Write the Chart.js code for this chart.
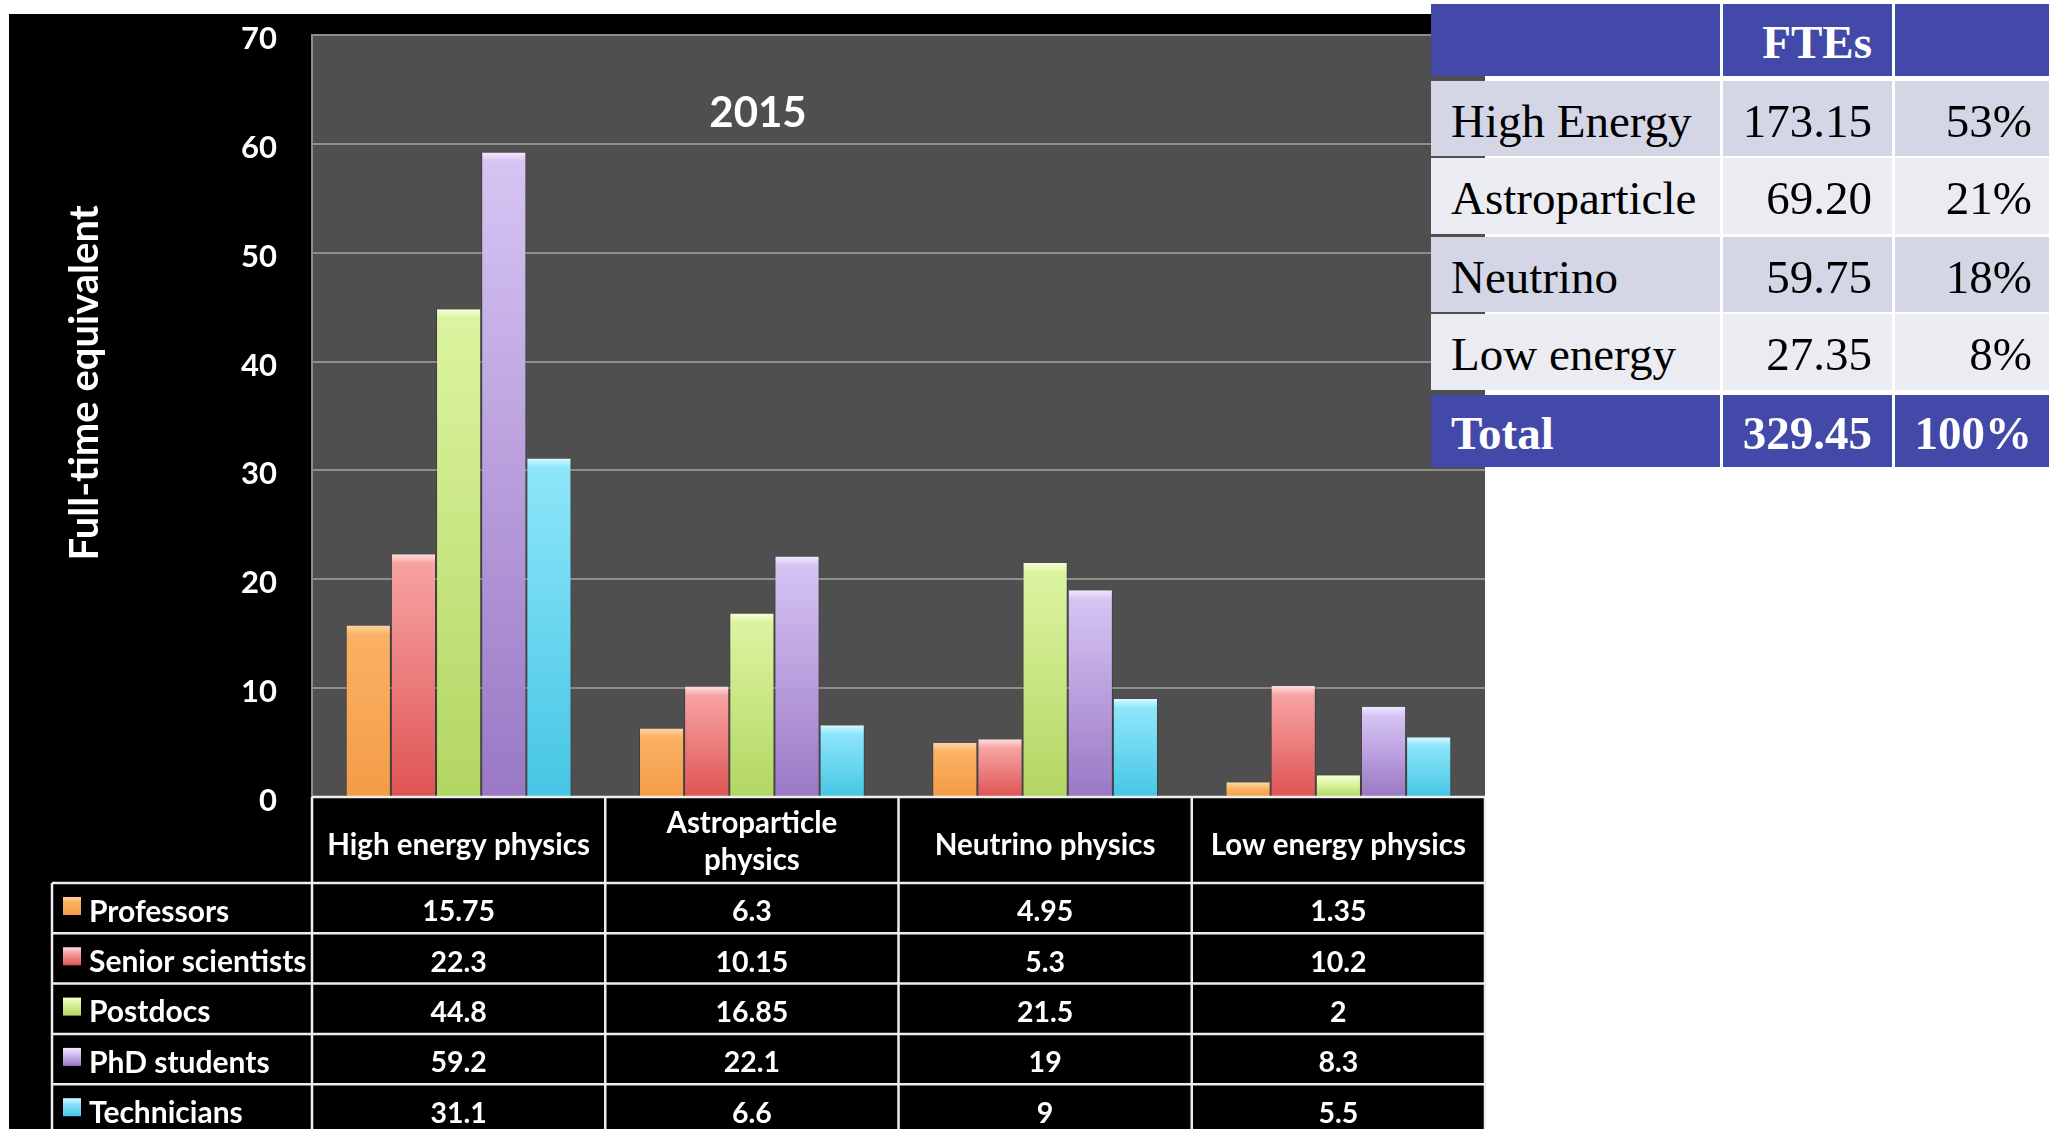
<!DOCTYPE html>
<html>
<head>
<meta charset="utf-8">
<title>Full-time equivalent by field, 2015</title>
<script src="https://cdn.jsdelivr.net/npm/chart.js@4.4.1/dist/chart.umd.min.js"></script>
<style>
  html, body { margin: 0; padding: 0; background: #ffffff; }
  #wrap { position: relative; width: 2053px; height: 1129px; overflow: hidden; }
  #chart { position: absolute; left: 0; top: 0; }
  .cell {
    position: absolute; box-sizing: border-box; display: flex; align-items: center;
    font-family: "Liberation Serif", "Times New Roman", serif; font-size: 47px; color: #000;
    padding: 4px 20px 0 20px; white-space: nowrap;
  }
  .cell.num { justify-content: flex-end; }
  .cell.last { padding-right: 17px; }
  .cell.head { background: #4349a8; color: #fff; font-weight: bold; }
  .cell.odd { background: #d4d6e6; }
  .cell.even { background: #ebebf2; }
</style>
</head>
<body>
<div id="wrap">
  <canvas id="chart" width="2053" height="1129"></canvas>
  <div id="fte"></div>
</div>
<script>
// Field categories and staff groups
const categories = ['High energy physics', 'Astroparticle physics', 'Neutrino physics', 'Low energy physics'];
const categoryLines = [['High energy physics'], ['Astroparticle', 'physics'], ['Neutrino physics'], ['Low energy physics']];
const groups = ['Professors', 'Senior scientists', 'Postdocs', 'PhD students', 'Technicians'];

// FTE per group, one value per field
const professors       = [15.75, 6.3, 4.95, 1.35];
const seniorScientists = [22.3, 10.15, 5.3, 10.2];
const postdocs         = [44.8, 16.85, 21.5, 2];
const phdStudents      = [59.2, 22.1, 19, 8.3];
const technicians      = [31.1, 6.6, 9, 5.5];

// Value axis
const yMin = 0, yMax = 70, yStep = 10;
const chartTitle = '2015';
const yTitle = 'Full-time equivalent';

// Summary table
const summaryHeader = ['', 'FTEs', ''];
const fieldNames  = ['High Energy', 'Astroparticle', 'Neutrino', 'Low energy'];
const fieldFTEs   = ['173.15', '69.20', '59.75', '27.35'];
const fieldShares = ['53%', '21%', '18%', '8%'];
const totalRow    = ['Total', '329.45', '100%'];

const seriesValues = [professors, seniorScientists, postdocs, phdStudents, technicians];

// Colour ramps per group: highlight, top, bottom
const palettes = [
  ['#fed7a2', '#fbb163', '#f39c47'],
  ['#fde0df', '#f6a3a2', '#df5453'],
  ['#f5ffd8', '#dcf4a0', '#b2d662'],
  ['#f1e9ff', '#d6c4f3', '#9a78c5'],
  ['#d6f8ff', '#8de6fa', '#45c6e4']
];

function barFill(pal) {
  return (ctx) => {
    const chart = ctx.chart;
    const y = chart.scales && chart.scales.y;
    if (ctx.type !== 'data' || !y || ctx.raw == null) return pal[2];
    const yTop = y.getPixelForValue(ctx.raw);
    const yBase = y.getPixelForValue(0);
    if (!Number.isFinite(yTop) || !Number.isFinite(yBase)) return pal[2];
    const h = Math.max(2, yBase - yTop);
    const g = chart.ctx.createLinearGradient(0, yTop, 0, yBase);
    const hl = Math.min(0.45, 9 / h);
    g.addColorStop(0, pal[0]);
    g.addColorStop(hl, pal[1]);
    g.addColorStop(1, pal[2]);
    return g;
  };
}

const FONT = 'Lato, "Open Sans", "DejaVu Sans", sans-serif';

// Black panel, plot background, title and axis title
const backdrop = {
  id: 'backdrop',
  beforeDraw(chart) {
    const { ctx, chartArea: a } = chart;
    ctx.save();
    ctx.fillStyle = '#000';
    ctx.fillRect(9, 14, a.right - 9, chart.height - 14);
    ctx.fillStyle = '#4f4f4f';
    ctx.fillRect(a.left, a.top, a.right - a.left, a.bottom - a.top);
    ctx.restore();
  },
  afterDatasetsDraw(chart) {
    const { ctx, chartArea: a } = chart;
    ctx.save();
    ctx.fillStyle = '#fff';
    ctx.font = 'bold 42px ' + FONT;
    ctx.textAlign = 'center';
    ctx.textBaseline = 'middle';
    ctx.fillText(chartTitle, a.left + 446, a.top + 78);
    ctx.translate(85, 383);
    ctx.rotate(-Math.PI / 2);
    ctx.font = 'bold 40px ' + FONT;
    ctx.fillText(yTitle, 0, 0);
    ctx.restore();
  }
};

// Data table under the category axis, with legend keys
const dataTable = {
  id: 'dataTable',
  afterDraw(chart) {
    const { ctx, chartArea: a, scales: { x } } = chart;
    const n = categories.length;
    const colW = (x.right - x.left) / n;
    const headTop = a.bottom;
    const headBottom = headTop + 86;
    const rowH = 50.3;
    const legendLeft = 52;
    const bottom = chart.height;
    ctx.save();
    ctx.strokeStyle = '#eeeeee';
    ctx.lineWidth = 2.5;
    ctx.beginPath();
    ctx.moveTo(x.left, headTop); ctx.lineTo(x.right, headTop);
    for (let i = 0; i <= n; i++) {
      const bx = x.left + i * colW;
      ctx.moveTo(bx, headTop); ctx.lineTo(bx, bottom);
    }
    ctx.moveTo(legendLeft, headBottom); ctx.lineTo(legendLeft, bottom);
    for (let r = 0; r <= groups.length; r++) {
      const ry = headBottom + r * rowH;
      ctx.moveTo(legendLeft, ry); ctx.lineTo(x.right, ry);
    }
    ctx.stroke();

    ctx.fillStyle = '#fff';
    ctx.textAlign = 'center';
    ctx.textBaseline = 'middle';
    ctx.font = 'bold 29.5px ' + FONT;
    const headMid = (headTop + headBottom) / 2 + 5;
    categoryLines.forEach((lines, i) => {
      const cx = x.getPixelForValue(i);
      const lh = 37;
      lines.forEach((t, k) => {
        ctx.fillText(t, cx, headMid + (k - (lines.length - 1) / 2) * lh - (lines.length > 1 ? 3 : 0));
      });
    });

    chart.data.datasets.forEach((ds, r) => {
      const top = headBottom + r * rowH;
      const mid = top + rowH / 2 + 4;
      const pal = palettes[r];
      const g = ctx.createLinearGradient(0, top + 14, 0, top + 32);
      g.addColorStop(0, pal[0]);
      g.addColorStop(0.3, pal[1]);
      g.addColorStop(1, pal[2]);
      ctx.fillStyle = g;
      ctx.fillRect(63, top + 14, 18, 18);
      ctx.fillStyle = '#fff';
      ctx.textAlign = 'left';
      ctx.font = 'bold 30px ' + FONT;
      ctx.fillText(ds.label, 89, mid);
      ctx.textAlign = 'center';
      ctx.font = 'bold 28.5px ' + FONT;
      ds.data.forEach((v, i) => {
        ctx.fillText(String(v), x.getPixelForValue(i), mid);
      });
    });
    ctx.restore();
  }
};

new Chart(document.getElementById('chart'), {
  type: 'bar',
  data: {
    labels: categories,
    datasets: groups.map((g, i) => ({
      label: g,
      data: seriesValues[i],
      backgroundColor: barFill(palettes[i]),
      borderColor: 'rgba(0,0,0,0.22)',
      borderWidth: { top: 0, left: 1, right: 1, bottom: 0 },
      categoryPercentage: 0.77,
      barPercentage: 1.0
    }))
  },
  options: {
    responsive: false,
    animation: false,
    events: [],
    layout: { padding: { left: 0, top: 35, right: 568, bottom: 332 } },
    plugins: { legend: { display: false }, title: { display: false }, tooltip: { enabled: false } },
    scales: {
      x: {
        ticks: { display: false },
        grid: { display: false },
        border: { display: false },
        afterFit(s) { s.height = 0; }
      },
      y: {
        min: yMin, max: yMax,
        ticks: { stepSize: yStep, color: '#fff', font: { family: FONT, size: 31, weight: 'bold' }, padding: 35, labelOffset: 4 },
        grid: { color: '#8e8e8e', lineWidth: 2, drawTicks: false },
        border: { display: true, color: '#8e8e8e', width: 2 },
        afterFit(s) { s.width = 312; s.paddingTop = 0; s.paddingBottom = 0; }
      }
    }
  },
  plugins: [backdrop, dataTable]
});

// Summary table to the right
(function buildSummary() {
  const host = document.getElementById('fte');
  const colLeft = [1431, 1723, 1895];
  const colWidth = [289, 169, 154];
  const rowTop = [4, 81, 158, 237, 314, 395];
  const rowHeight = [72, 75, 76, 75, 76, 72];
  const rows = [summaryHeader]
    .concat(fieldNames.map((f, i) => [f, fieldFTEs[i], fieldShares[i]]))
    .concat([totalRow]);
  rows.forEach((row, r) => {
    row.forEach((txt, c) => {
      const d = document.createElement('div');
      let cls = 'cell';
      if (r === 0 || r === rows.length - 1) cls += ' head';
      else cls += (r % 2 === 1) ? ' odd' : ' even';
      if (c > 0) cls += ' num';
      if (c === 2) cls += ' last';
      d.className = cls;
      d.style.left = colLeft[c] + 'px';
      d.style.top = rowTop[r] + 'px';
      d.style.width = colWidth[c] + 'px';
      d.style.height = rowHeight[r] + 'px';
      d.textContent = txt;
      host.appendChild(d);
    });
  });
})();
</script>
</body>
</html>
